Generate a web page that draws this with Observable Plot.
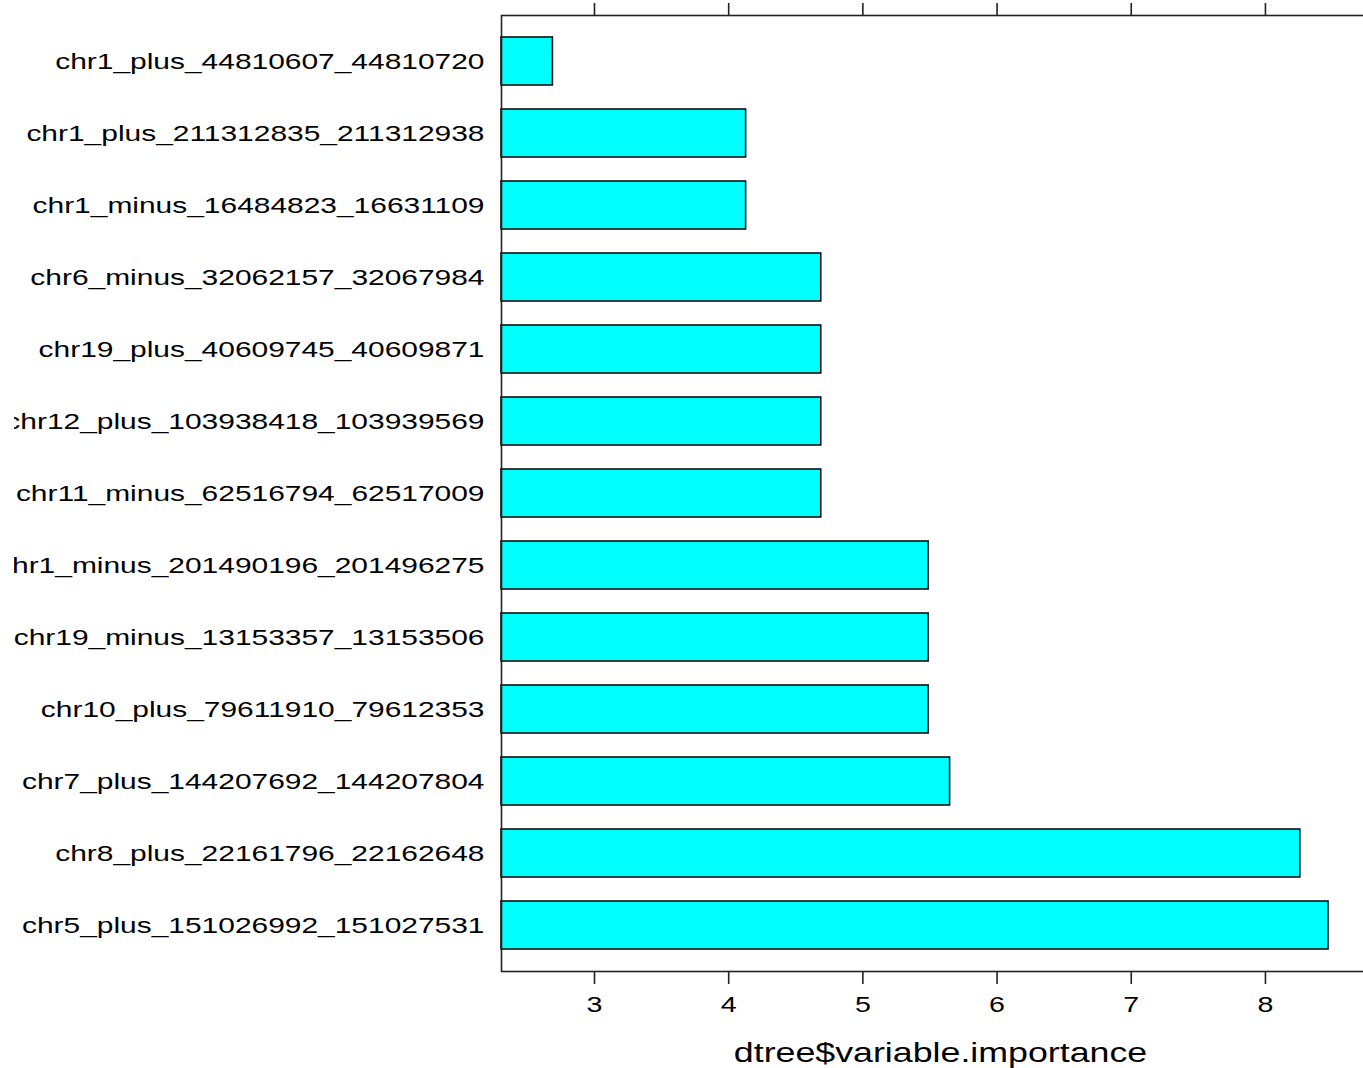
<!DOCTYPE html>
<html>
<head>
<meta charset="utf-8">
<script src="https://cdn.jsdelivr.net/npm/d3@7"></script>
<script src="https://cdn.jsdelivr.net/npm/@observablehq/plot@0.6"></script>
<style>
  html, body { margin: 0; padding: 0; background: #fff; overflow: hidden; }
  #chart svg { display: block; overflow: hidden !important; }
</style>
</head>
<body>
<div id="chart"></div>
<script>
// Categories, top to bottom as drawn
const names = [
  "chr1_plus_44810607_44810720",
  "chr1_plus_211312835_211312938",
  "chr1_minus_16484823_16631109",
  "chr6_minus_32062157_32067984",
  "chr19_plus_40609745_40609871",
  "chr12_plus_103938418_103939569",
  "chr11_minus_62516794_62517009",
  "chr1_minus_201490196_201496275",
  "chr19_minus_13153357_13153506",
  "chr10_plus_79611910_79612353",
  "chr7_plus_144207692_144207804",
  "chr8_plus_22161796_22162648",
  "chr5_plus_151026992_151027531"
];
const importance = [2.69, 4.13, 4.13, 4.69, 4.69, 4.69, 4.69, 5.49, 5.49, 5.49, 5.65, 8.26, 8.47];
const xTicks = [3, 4, 5, 6, 7, 8];
const xLimits = [2.307, 8.85];
const xTitle = "dtree$variable.importance";

const data = names.map((n, i) => ({name: n, value: importance[i]}));

const plot = Plot.plot({
  width: 1363,
  height: 1068,
  marginLeft: 501,
  marginRight: -16,
  marginTop: 15,
  marginBottom: 97,
  style: {fontFamily: "'Liberation Sans', Arial, sans-serif", color: "#000", background: "#fff"},
  x: {domain: xLimits},
  y: {domain: names, paddingInner: 1/3, paddingOuter: 0.267},
  marks: [
    Plot.barX(data, {y: "name", x1: () => xLimits[0], x2: "value", fill: "#00FFFF", stroke: "#111", strokeWidth: 1.6}),
    Plot.frame({stroke: "#222", strokeWidth: 1.6}),
    Plot.axisX({anchor: "bottom", ticks: xTicks, tickFormat: d3.format("d"), tickSize: 13, tickPadding: 12, fontSize: 22, label: null, stroke: "#222", strokeWidth: 1.6}),
    Plot.axisX({anchor: "top", ticks: xTicks, tickSize: 13, tickFormat: () => "", label: null, stroke: "#222", strokeWidth: 1.6}),
    Plot.axisY({anchor: "left", tickSize: 0, tickPadding: 17, fontSize: 22, label: null}),
    Plot.text([xTitle], {frameAnchor: "bottom", dy: 90, fontSize: 27.5, fill: "#000"})
  ]
});
document.getElementById("chart").appendChild(plot);

// Horizontal stretch of text to match reference aspect
function stretch(sel, k) {
  plot.querySelectorAll(sel).forEach(t => {
    const len = t.getComputedTextLength();
    if (len > 0) {
      t.setAttribute("textLength", len * k);
      t.setAttribute("lengthAdjust", "spacingAndGlyphs");
    }
  });
}
stretch('g[aria-label="y-axis tick label"] text', 1.36);
stretch('g[aria-label="x-axis tick label"] text', 1.3);
stretch('g[aria-label="text"] text', 1.3);

// The reference crops its labels at a left edge near x = 14
const ns = "http://www.w3.org/2000/svg";
const yl = plot.querySelector('g[aria-label="y-axis tick label"]');
if (yl) {
  const ctm = yl.getCTM();
  const offX = ctm ? ctm.e : 0;
  const defs = document.createElementNS(ns, "defs");
  const cp = document.createElementNS(ns, "clipPath");
  cp.setAttribute("id", "leftclip");
  cp.setAttribute("clipPathUnits", "userSpaceOnUse");
  const r = document.createElementNS(ns, "rect");
  r.setAttribute("x", 14 - offX); r.setAttribute("y", -2000);
  r.setAttribute("width", 4000); r.setAttribute("height", 6000);
  cp.appendChild(r); defs.appendChild(cp); plot.insertBefore(defs, plot.firstChild);
  yl.setAttribute("clip-path", "url(#leftclip)");
}
</script>
</body>
</html>
